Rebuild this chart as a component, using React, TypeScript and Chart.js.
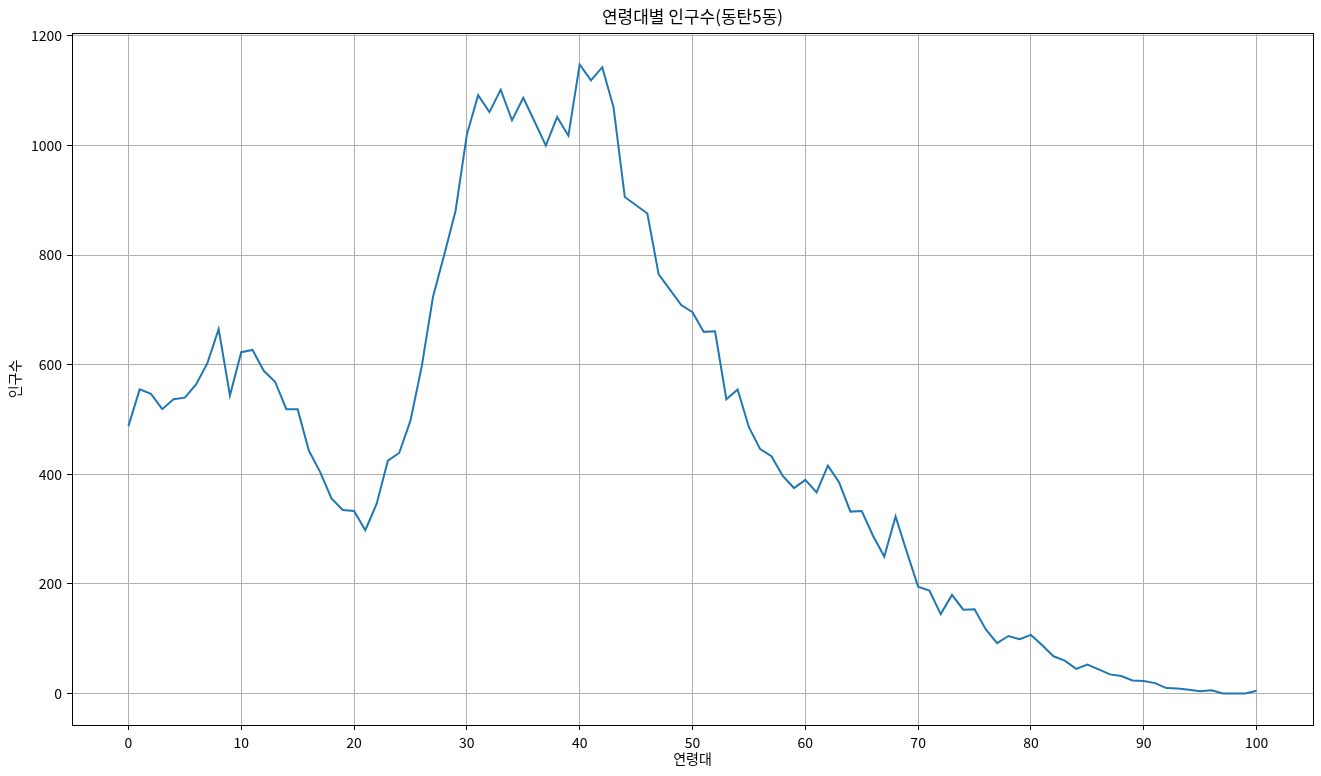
import React, { useEffect, useRef } from "react";
import { Chart, registerables } from "chart.js";

Chart.register(...registerables);

const chartTitle = "연령대별 인구수(동탄5동)";
const xAxisLabel = "연령대";
const yAxisLabel = "인구수";

const ages: number[] = Array.from({ length: 101 }, (_, i) => i);

const population: number[] = [
  488, 555, 547, 519, 537, 540, 564, 603, 665, 544,
  623, 627, 589, 569, 519, 519, 443, 404, 356, 335,
  333, 298, 346, 425, 439, 498, 597, 724, 801, 881,
  1020, 1092, 1061, 1102, 1046, 1087, 1044, 1000, 1052, 1018,
  1148, 1119, 1143, 1070, 906, 891, 876, 765, 737, 709,
  696, 660, 661, 537, 555, 486, 446, 433, 397, 375,
  390, 367, 416, 385, 332, 333, 288, 250, 323, 258,
  195, 188, 145, 180, 153, 154, 117, 92, 105, 99,
  107, 88, 68, 60, 45, 53, 44, 35, 32, 24,
  23, 19, 10, 9, 7, 4, 6, 0, 0, 0,
  5,
];

const xTicks: number[] = [0, 10, 20, 30, 40, 50, 60, 70, 80, 90, 100];
const yTicks: number[] = [0, 200, 400, 600, 800, 1000, 1200];

const FONT = "'Noto Sans CJK KR', 'Noto Sans', sans-serif";

export default function App() {
  const canvasRef = useRef<HTMLCanvasElement | null>(null);

  useEffect(() => {
    const canvas = canvasRef.current;
    if (!canvas) return;

    const yMinData = Math.min(...population);
    const yMaxData = Math.max(...population);
    const yMargin = (yMaxData - yMinData) * 0.05;
    const xMargin = (ages[ages.length - 1] - ages[0]) * 0.05;

    const framePlugin = {
      id: "frameAndTitles",
      afterDraw(chart: any) {
        const { ctx, chartArea } = chart;
        ctx.save();
        ctx.strokeStyle = "#000";
        ctx.lineWidth = 1;
        ctx.strokeRect(
          Math.round(chartArea.left) + 0.5,
          Math.round(chartArea.top) + 0.5,
          Math.round(chartArea.right) - Math.round(chartArea.left),
          Math.round(chartArea.bottom) - Math.round(chartArea.top)
        );
        const cx = (chartArea.left + chartArea.right) / 2;
        const cy = (chartArea.top + chartArea.bottom) / 2;
        ctx.fillStyle = "#000";
        ctx.textAlign = "center";
        ctx.textBaseline = "middle";
        ctx.font = `17px ${FONT}`;
        ctx.fillText(chartTitle, cx, 17);
        ctx.font = `14px ${FONT}`;
        ctx.fillText(xAxisLabel, cx, 759);
        ctx.translate(15, cy);
        ctx.rotate(-Math.PI / 2);
        ctx.fillText(yAxisLabel, 0, 0);
        ctx.restore();
      },
    };

    const chart = new Chart(canvas, {
      type: "line",
      data: {
        datasets: [
          {
            data: ages.map((a, i) => ({ x: a, y: population[i] })),
            borderColor: "#1f77b4",
            borderWidth: 2,
            pointRadius: 0,
            tension: 0,
            fill: false,
          },
        ],
      },
      options: {
        animation: false,
        responsive: false,
        maintainAspectRatio: false,
        layout: { padding: { left: 0, right: 8, top: 33, bottom: 0 } },
        plugins: {
          legend: { display: false },
          title: { display: false },
          tooltip: { enabled: false },
        },
        scales: {
          x: {
            type: "linear",
            min: ages[0] - xMargin,
            max: ages[ages.length - 1] + xMargin,
            afterBuildTicks: (scale: any) => {
              scale.ticks = xTicks.map((v) => ({ value: v }));
            },
            afterFit: (scale: any) => {
              scale.height = 51;
            },
            ticks: {
              color: "#000",
              font: { family: FONT, size: 14 },
              padding: 4,
              maxRotation: 0,
              autoSkip: false,
              callback: (v: any) => String(v),
            },
            grid: {
              color: "#b0b0b0",
              lineWidth: 1,
              drawTicks: true,
              tickLength: 5,
              tickColor: "#000",
              tickWidth: 1,
            },
            border: { display: true, color: "#000", width: 1 },
          },
          y: {
            type: "linear",
            min: yMinData - yMargin,
            max: yMaxData + yMargin,
            afterBuildTicks: (scale: any) => {
              scale.ticks = yTicks.map((v) => ({ value: v }));
            },
            afterFit: (scale: any) => {
              scale.width = 72;
            },
            ticks: {
              color: "#000",
              font: { family: FONT, size: 14 },
              padding: 5,
              autoSkip: false,
              callback: (v: any) => String(v),
            },
            grid: {
              color: "#b0b0b0",
              lineWidth: 1,
              drawTicks: true,
              tickLength: 5,
              tickColor: "#000",
              tickWidth: 1,
            },
            border: { display: true, color: "#000", width: 1 },
          },
        },
      },
      plugins: [framePlugin],
    } as any);

    return () => {
      chart.destroy();
    };
  }, []);

  return (
    <div style={{ position: "absolute", left: 0, top: 0, width: 1321, height: 776, background: "#fff" }}>
      <canvas ref={canvasRef} width={1321} height={776} style={{ display: "block" }} />
    </div>
  );
}
